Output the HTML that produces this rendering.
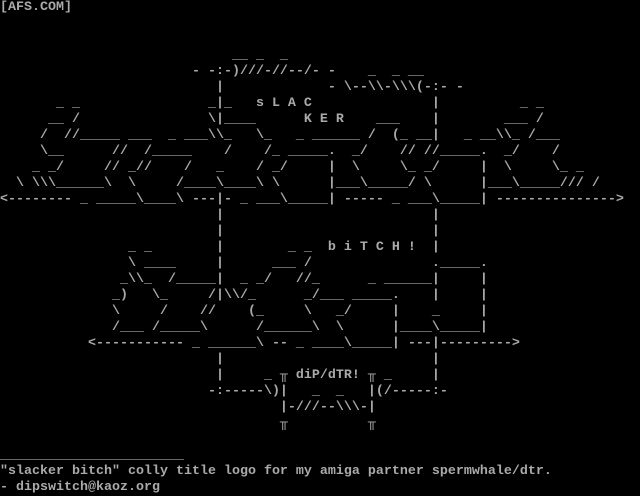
<!DOCTYPE html>
<html><head><meta charset="utf-8"><style>
html,body{margin:0;padding:0;background:#000;width:640px;height:496px;overflow:hidden}
pre{margin:0;padding:0;font-family:"Liberation Mono","DejaVu Sans Mono",monospace;font-size:13.333px;line-height:16px;color:#aaa;font-weight:bold;white-space:pre}
</style></head><body><pre>[AFS.COM]


                             __ _  _
                        - -:-)///-//--/- -    _  _ __
                           |             - \--\\-\\\(-:- -
       _ _                _|_   s L A C               |          _ _
      __ /                \|____      K E R    ___    |        ___ /
     /  //_____ ___  _ ___\\_   \_   _ ______ /  (_ __|   _ __\\_ /___
     \__      //  /_____    /    /_ _____.  _/    // //_____.  _/    /
    _ _/     // _//    /   _    / _/     |  \     \_ _/     |  \     \_ _
  \ \\\______\  \     /____\____\ \      |___\_____/ \      |___\_____/// /
&lt;-------- _ _____\____\ ---|- _ ___\_____| ----- _ ___\_____| ---------------&gt;
                           |                          |
                           |                          |
                _ _        |        _ _  b i T C H !  |
                \ ____     |      ___ /               ._____.
               _\\_  /_____|  _ _/   //_      _ ______|     |
              _)   \_     /|\\/_      _/___ _____.    |     |
              \     /    //    (_     \   _/     |    _     |
              /___ /_____\      /______\  \      |____\_____|
           &lt;----------- _ ______\ -- _ ____\_____| ---|---------&gt;
                           |                          |
                           |     _ ╥ diP/dTR! ╥ _     |
                          -:-----\)|   _  _   |(/-----:-
                                   |-///--\\\-|
                                   ╥          ╥

_______________________
"slacker bitch" colly title logo for my amiga partner spermwhale/dtr.
- dipswitch@kaoz.org</pre></body></html>
